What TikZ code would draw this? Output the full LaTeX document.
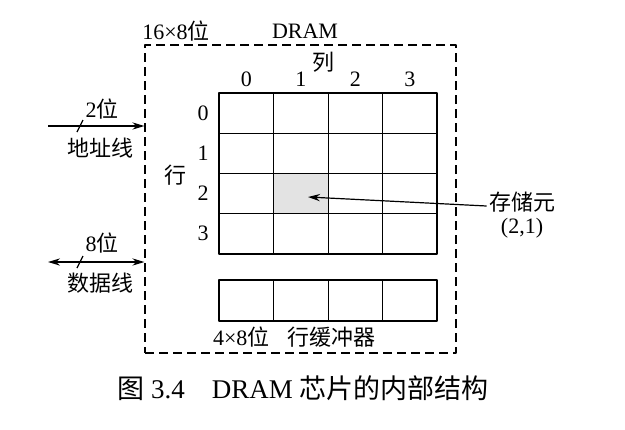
\documentclass[tikz,border=0pt]{standalone}
\usepackage{fontspec}
\usetikzlibrary{arrows.meta}
\setmainfont{Liberation Serif}
\newfontfamily\cjk{Noto Sans CJK SC}
\tikzset{
  chipbox/.style={draw,dash pattern=on 4.5pt off 2.5pt,line width=0.6pt,minimum width=155.5pt,minimum height=154pt,inner sep=0pt},
  thickbox/.style={line width=1.1pt},
  cellline/.style={line width=0.5pt},
  lbl/.style={inner sep=1pt}
}
\begin{document}
\begin{tikzpicture}[x=0.5pt,y=-0.5pt,font=\fontsize{11}{13}\selectfont, line join=round, >={Stealth[length=6pt,width=3.6pt]}]
\useasboundingbox (0,0) rectangle (625,429);
% chip outline
\node[chipbox] (chip) at (300.5,199) {};
\node[lbl] (size) at (176,31) {16×8{\cjk 位}};
\node[lbl] (name) at (305,31) {DRAM};
% memory array
\fill[gray!22] (273.5,173.5) rectangle (328,213.75);
\foreach \i in {1,2,3}{
  \draw[cellline] ({219+54.5*\i},93) -- ({219+54.5*\i},254);
  \draw[cellline] (219,{93+40.25*\i}) -- (437,{93+40.25*\i});}
\draw[thickbox] (219,93) rectangle (437,254);
\node[lbl] (col) at (323,62) {\cjk 列};
\foreach \i in {0,...,3}{
  \node[lbl] (c\i) at ({246.25+54.5*\i},79) {\i};
  \node[lbl] (r\i) at (203,{113+40.25*\i}) {\i};}
\node[lbl] (row) at (175,175) {\cjk 行};
% row buffer
\foreach \i in {1,2,3}
  \draw[cellline] ({219+54.5*\i},280) -- ({219+54.5*\i},321);
\draw[thickbox] (219,280) rectangle (437,321);
\node[lbl] (buf) at (294,337) {4×8{\cjk 位}\hspace{0.8em}{\cjk 行缓冲器}};
% cell pointer
\coordinate (cell) at (308,197);
\node[lbl] (store) at (522,202) {\cjk 存储元};
\node[lbl] (idx) at (522,228) {(2,1)};
\draw[->,line width=0.6pt] ([yshift=-2pt]store.west) -- (cell);
% address lines
\coordinate (addr) at (48,126);
\draw[->,line width=0.6pt] (addr) -- (addr -| chip.west);
\draw[line width=0.6pt] (77,132) -- (83,120);
\node[lbl] (abits) at (102,109) {2{\cjk 位}};
\node[lbl] (aname) at (100,148) {\cjk 地址线};
% data lines
\coordinate (data) at (48,262);
\draw[<->,line width=0.6pt] (data) -- (data -| chip.west);
\draw[line width=0.6pt] (77,268) -- (83,256);
\node[lbl] (dbits) at (102,243) {8{\cjk 位}};
\node[lbl] (dname) at (100,283) {\cjk 数据线};
% caption
\node[lbl,font=\fontsize{13.5}{15}\selectfont] (cap) at (303,388) {{\cjk 图} 3.4\quad DRAM {\cjk 芯片的内部结构}};
\end{tikzpicture}
\end{document}
